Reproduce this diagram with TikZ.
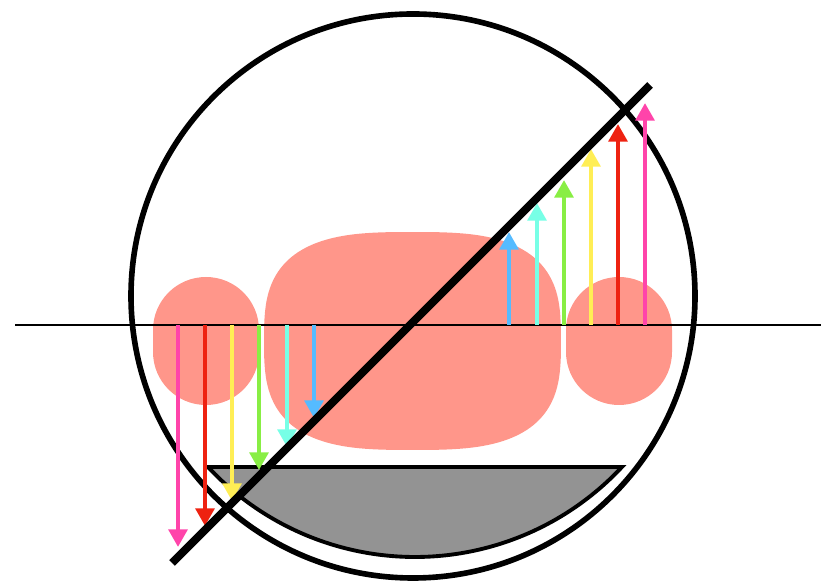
\documentclass[tikz,border=0pt]{standalone}
\usepackage{tikz}
\usetikzlibrary{arrows.meta}
\definecolor{cSalmon}{RGB}{255,150,138}
\definecolor{cGrey}{RGB}{147,147,147}
\definecolor{cPink}{RGB}{255,68,170}
\definecolor{cRed}{RGB}{238,34,17}
\definecolor{cYellow}{RGB}{255,238,85}
\definecolor{cGreen}{RGB}{136,238,68}
\definecolor{cCyan}{RGB}{119,255,230}
\definecolor{cBlue}{RGB}{85,187,255}
\tikzset{
	blob/.style    ={fill=cSalmon, draw=none},
	axisline/.style={line width=1.1pt, black},
	lens/.style    ={line width=3.2pt, black},
	mirror/.style  ={line width=4.5pt, black},
	segm/.style    ={fill=cGrey, draw=black, line width=2.2pt, line join=miter},
	ray/.style     ={line width=2.6pt, -{Triangle[width=10.5pt, length=10pt]}},
}

\begin{document}
\begin{tikzpicture}[x=0.02cm, y=0.02cm]
	\useasboundingbox (0,0) rectangle (828,584);
	% blobs
	\fill[blob, rounded corners=1.06cm] (153,179) rectangle (259,307);
	\fill[blob] plot[domain=2.5:362.5, samples=73, smooth, variable=\t]
		({412.5+148.5*cos(\t)/pow(abs(cos(\t)),0.333)}, {243+109*sin(\t)/pow(abs(sin(\t)),0.333)}) -- cycle;
	\fill[blob, rounded corners=1.06cm] (566,179) rectangle (672,307);
	% axis and circle
	\draw[axisline] (15,259) -- (821,259);
	\draw[lens] (413,288) circle[radius=282];
	% grey segment
	\draw[segm] (208,117) arc[start angle=223, end angle=317, radius=283] -- cycle;
	% rays
	\foreach \xl/\xr/\len/\col in {178/645/222/cPink, 205/618/201/cRed, 232/591/176/cYellow,
		259/564/145/cGreen, 287/537/122/cCyan, 314/509/93/cBlue} {
		\draw[ray, \col] (\xl,259) -- ++(0,-\len);
		\draw[ray, \col] (\xr,259) -- ++(0,\len);
	}
	% diagonal
	\draw[mirror] (172,21) -- (650,499);
\end{tikzpicture}
\end{document}
